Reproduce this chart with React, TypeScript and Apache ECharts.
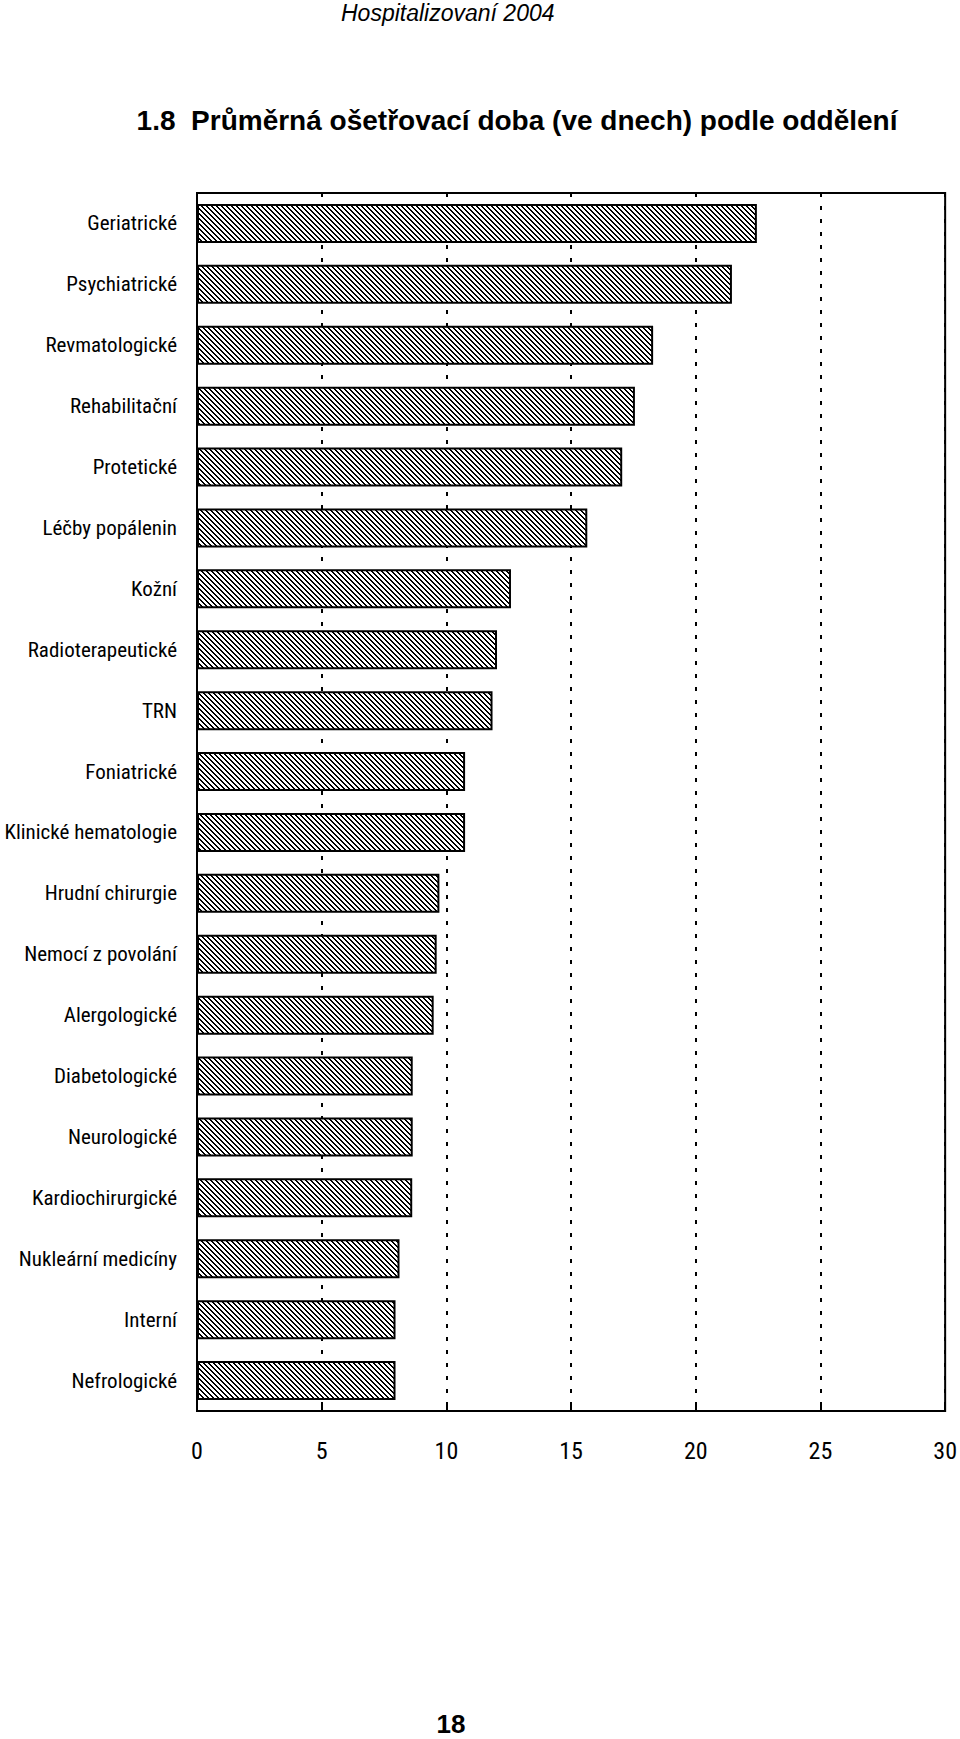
import React, { useEffect, useRef } from "react";
import * as echarts from "echarts";

const categories = [
  "Geriatrické",
  "Psychiatrické",
  "Revmatologické",
  "Rehabilitační",
  "Protetické",
  "Léčby popálenin",
  "Kožní",
  "Radioterapeutické",
  "TRN",
  "Foniatrické",
  "Klinické hematologie",
  "Hrudní chirurgie",
  "Nemocí z povolání",
  "Alergologické",
  "Diabetologické",
  "Neurologické",
  "Kardiochirurgické",
  "Nukleární medicíny",
  "Interní",
  "Nefrologické",
];

const values = [
  22.45, 21.45, 18.29, 17.56, 17.05, 15.65, 12.59, 12.03, 11.85, 10.75, 10.75,
  9.72, 9.61, 9.49, 8.65, 8.65, 8.63, 8.12, 7.96, 7.96,
];

const xMin = 0;
const xMax = 30;
const xInterval = 5;

const headerText = "Hospitalizovaní 2004";
const titleText = "1.8  Průměrná ošetřovací doba (ve dnech) podle oddělení";
const pageNumber = "18";

const narrow =
  "'Liberation Sans Narrow', 'Arial Narrow', 'Roboto Condensed', 'DejaVu Sans Condensed', 'Liberation Sans', Arial, sans-serif";
const sans = "'Liberation Sans', Arial, Helvetica, sans-serif";

function makeHatch(): HTMLCanvasElement {
  const c = document.createElement("canvas");
  const n = 5;
  c.width = n;
  c.height = n;
  const ctx = c.getContext("2d")!;
  ctx.fillStyle = "#ffffff";
  ctx.fillRect(0, 0, n, n);
  ctx.fillStyle = "#000000";
  for (let y = 0; y < n; y++) {
    for (let x = 0; x < n; x++) {
      const d = (((x - y) % n) + n) % n;
      if (d === 0 || d === 1) ctx.fillRect(x, y, 1, 1);
    }
  }
  return c;
}

export default function App() {
  const ref = useRef<HTMLDivElement>(null);

  useEffect(() => {
    if (!ref.current) return;
    const chart = echarts.init(ref.current, undefined, { renderer: "svg" });
    const hatch = makeHatch();

    chart.setOption({
      animation: false,
      backgroundColor: "#ffffff",
      grid: {
        left: 197,
        top: 193,
        right: 13,
        bottom: 328,
        show: true,
        borderColor: "#000",
        borderWidth: 2,
        backgroundColor: "transparent",
        containLabel: false,
      },
      xAxis: {
        type: "value",
        min: xMin,
        max: xMax,
        interval: xInterval,
        axisLine: { show: true, lineStyle: { color: "#000", width: 2 } },
        axisTick: { show: true, inside: true, length: 9, lineStyle: { color: "#000", width: 2 } },
        axisLabel: {
          color: "#000",
          fontFamily: narrow,
          fontSize: 24,
          margin: 28,
        },
        splitLine: {
          show: true,
          lineStyle: { color: "#000", width: 2, type: [4, 9] },
        },
      },
      yAxis: {
        type: "category",
        data: categories,
        inverse: true,
        axisLine: { show: true, lineStyle: { color: "#000", width: 2 } },
        axisTick: { show: false },
        axisLabel: {
          color: "#000",
          fontFamily: narrow,
          fontSize: 21,
          margin: 20,
        },
        splitLine: { show: false },
      },
      series: [
        {
          type: "bar",
          data: values,
          barWidth: 39,
          itemStyle: {
            color: { image: hatch, repeat: "repeat" },
            borderColor: "#000",
            borderWidth: 2,
          },
          emphasis: { disabled: true },
        },
      ],
      graphic: [
        {
          type: "text",
          left: 450 - 109,
          top: 1,
          style: {
            text: headerText,
            fill: "#000",
            font: `italic 23px ${sans}`,
          },
        },
        {
          type: "text",
          x: 517,
          y: 120,
          style: {
            text: titleText,
            fill: "#000",
            font: `bold 28px ${sans}`,
            textAlign: "center",
            textVerticalAlign: "middle",
          },
        },
        {
          type: "text",
          x: 451,
          y: 1724,
          style: {
            text: pageNumber,
            fill: "#000",
            font: `bold 26px ${sans}`,
            textAlign: "center",
            textVerticalAlign: "middle",
          },
        },
      ],
    });

    return () => {
      chart.dispose();
    };
  }, []);

  return (
    <div
      ref={ref}
      style={{ position: "absolute", left: 0, top: 0, width: 960, height: 1739 }}
    />
  );
}
